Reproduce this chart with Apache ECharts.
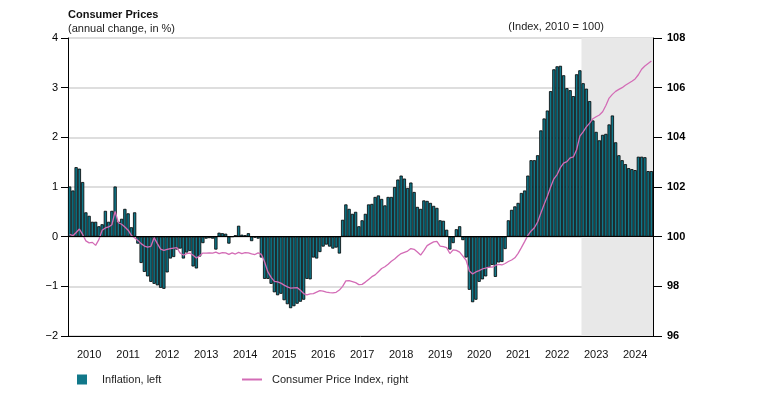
<!DOCTYPE html>
<html><head><meta charset="utf-8">
<script src="https://cdn.jsdelivr.net/npm/echarts@6/dist/echarts.min.js"></script>
<style>html,body{margin:0;padding:0;background:#fff}#c{width:764px;height:405px}</style>
</head><body><div id="c"></div>
<script>
// ---- data ----
const years = [2010,2011,2012,2013,2014,2015,2016,2017,2018,2019,2020,2021,2022,2023,2024];
// Inflation, annual change in % (monthly)
const inflation = [
  1.01, 0.93, 1.40, 1.37, 1.10, 0.49, 0.42, 0.30, 0.30, 0.21, 0.25, 0.52,
  0.30, 0.52, 1.01, 0.30, 0.36, 0.56, 0.47, 0.19, 0.49, -0.14, -0.53, -0.71,
  -0.80, -0.91, -0.95, -0.98, -1.03, -1.05, -0.72, -0.44, -0.41, -0.26, -0.24, -0.44,
  -0.32, -0.29, -0.60, -0.64, -0.40, -0.13, -0.04, -0.03, -0.04, -0.26, 0.08, 0.07,
  0.06, -0.14, 0.00, 0.03, 0.22, 0.04, 0.03, 0.07, -0.09, -0.02, -0.04, -0.42,
  -0.85, -0.85, -0.95, -1.12, -1.18, -1.15, -1.28, -1.36, -1.44, -1.40, -1.35, -1.31,
  -1.27, -0.85, -0.86, -0.42, -0.44, -0.31, -0.20, -0.16, -0.20, -0.24, -0.22, -0.34,
  0.34, 0.65, 0.56, 0.46, 0.50, 0.21, 0.33, 0.46, 0.65, 0.66, 0.80, 0.83,
  0.76, 0.63, 0.80, 0.80, 1.00, 1.15, 1.23, 1.17, 0.98, 1.09, 0.90, 0.60,
  0.56, 0.73, 0.72, 0.68, 0.62, 0.58, 0.33, 0.32, 0.14, -0.26, -0.13, 0.15,
  0.21, -0.07, -0.42, -1.07, -1.32, -1.27, -0.91, -0.86, -0.80, -0.62, -0.57, -0.81,
  -0.52, -0.51, -0.25, 0.33, 0.54, 0.61, 0.68, 0.88, 0.93, 1.23, 1.54, 1.54,
  1.64, 2.14, 2.38, 2.54, 2.93, 3.37, 3.43, 3.44, 3.25, 2.99, 2.95, 2.83,
  3.27, 3.35, 3.09, 2.98, 2.73, 2.34, 2.11, 1.94, 2.05, 2.07, 2.26, 2.44,
  1.90, 1.64, 1.54, 1.46, 1.38, 1.36, 1.34, 1.61, 1.61, 1.60, 1.32, 1.32
];
// Consumer Price Index (2010 = 100)
const cpi = [
  100.09, 100.04, 100.17, 100.31, 100.09, 99.83, 99.75, 99.77, 99.65, 99.88, 100.26, 100.35,
  100.39, 100.48, 101.02, 100.56, 100.50, 100.39, 100.26, 100.05, 99.96, 99.85, 99.72, 99.62,
  99.58, 99.61, 99.96, 99.72, 99.50, 99.45, 99.49, 99.52, 99.54, 99.56, 99.34, 99.26,
  99.32, 99.34, 99.25, 99.14, 99.23, 99.34, 99.34, 99.35, 99.34, 99.38, 99.32, 99.36,
  99.35, 99.29, 99.35, 99.30, 99.37, 99.32, 99.36, 99.35, 99.31, 99.28, 99.35, 99.29,
  98.98, 98.58, 98.36, 98.20, 98.18, 98.13, 98.05, 97.98, 97.93, 97.94, 97.95, 97.84,
  97.71, 97.66, 97.70, 97.71, 97.77, 97.83, 97.81, 97.77, 97.75, 97.74, 97.76, 97.85,
  98.00, 98.22, 98.23, 98.19, 98.15, 98.07, 98.08, 98.17, 98.28, 98.39, 98.46, 98.59,
  98.72, 98.79, 98.89, 99.01, 99.10, 99.22, 99.32, 99.37, 99.42, 99.52, 99.49, 99.38,
  99.26, 99.44, 99.64, 99.72, 99.79, 99.81, 99.62, 99.60, 99.56, 99.32, 99.47, 99.45,
  99.38, 99.22, 99.05, 98.62, 98.50, 98.58, 98.63, 98.70, 98.73, 98.77, 98.77, 98.84,
  98.88, 98.86, 98.92, 99.00, 99.06, 99.15, 99.33, 99.56, 99.80, 100.05, 100.23, 100.36,
  100.59, 100.95, 101.30, 101.63, 102.00, 102.33, 102.50, 102.78, 102.96, 103.02, 103.17, 103.21,
  103.50, 104.05, 104.22, 104.42, 104.57, 104.75, 104.83, 104.90, 105.03, 105.28, 105.58, 105.73,
  105.85, 105.93, 106.00, 106.10, 106.18, 106.26, 106.35, 106.52, 106.74, 106.87, 106.97, 107.07
];
const leftAxis = { min: -2, max: 4, interval: 1 };
const rightAxis = { min: 96, max: 108, interval: 2 };
const forecastStart = '2023-03';
const titleText = 'Consumer Prices';
const subText = '(annual change, in %)';
const rightNote = '(Index, 2010 = 100)';
const barName = 'Inflation, left';
const lineName = 'Consumer Price Index, right';

// ---- build ----
const months = [];
years.forEach(y => { for (let m = 1; m <= 12; m++) months.push(y + '-' + String(m).padStart(2, '0')); });
const shadeStartIdx = months.indexOf(forecastStart);
const minus = (v) => String(v).replace('-', '\u2212');

const FONT = '"Liberation Sans", Arial, sans-serif';
const chart = echarts.init(document.getElementById('c'), null, { renderer: 'canvas' });
chart.setOption({
  animation: false,
  backgroundColor: '#fff',
  textStyle: { fontFamily: FONT },
  title: [
    { text: titleText, subtext: subText, left: 68, top: 9, padding: 0, itemGap: 2,
      textStyle: { fontSize: 11, fontWeight: 'bold', color: '#111', fontFamily: FONT, lineHeight: 12 },
      subtextStyle: { fontSize: 11, color: '#222', fontFamily: FONT, lineHeight: 12 } },
    { text: rightNote, right: 160, top: 21, padding: 0,
      textStyle: { fontSize: 11, fontWeight: 'normal', color: '#222', fontFamily: FONT } }
  ],
  legend: [
    { data: [barName], left: 77, top: 374, padding: 0, itemWidth: 10, itemHeight: 10, icon: 'rect',
      itemStyle: { borderWidth: 0 },
      textStyle: { fontSize: 11, color: '#222', fontFamily: FONT, padding: [0, 0, 0, 10] } },
    { data: [lineName], left: 242, top: 374, padding: 0, itemWidth: 20, itemHeight: 2, icon: 'rect',
      textStyle: { fontSize: 11, color: '#222', fontFamily: FONT, padding: [0, 0, 0, 5] } }
  ],
  grid: { left: 68, right: 111, top: 38, bottom: 69, containLabel: false },
  xAxis: [
    { type: 'category', data: months, boundaryGap: true,
      axisLine: { onZero: false, lineStyle: { color: '#000', width: 1 } },
      axisTick: { interval: 2, length: 4, lineStyle: { color: '#333' } },
      axisLabel: { interval: (i) => i % 12 === 6, formatter: (v) => v.slice(0, 4),
        margin: 13, fontSize: 11, color: '#111', fontFamily: FONT },
      splitLine: { show: false } },
    { type: 'category', data: months, boundaryGap: true, position: 'bottom',
      axisLine: { show: false, onZero: false },
      axisTick: { interval: 11, length: 9, lineStyle: { color: '#333' } },
      axisLabel: { show: false }, splitLine: { show: false } },
    { type: 'value', min: 0, max: months.length, show: false }
  ],
  yAxis: [
    { type: 'value', min: leftAxis.min, max: leftAxis.max, interval: leftAxis.interval, position: 'left',
      axisLine: { show: true, lineStyle: { color: '#000', width: 1 } },
      axisTick: { show: true, length: 7, lineStyle: { color: '#000' } },
      axisLabel: { fontSize: 11, color: '#000', margin: 10, fontFamily: FONT, formatter: minus },
      splitLine: { show: true, lineStyle: { color: '#d3d3d3', width: 1.5 } } },
    { type: 'value', min: rightAxis.min, max: rightAxis.max, interval: rightAxis.interval, position: 'right',
      axisLine: { show: true, lineStyle: { color: '#000', width: 1 } },
      axisTick: { show: true, length: 9, lineStyle: { color: '#000' } },
      axisLabel: { fontSize: 11, fontWeight: 'bold', color: '#000', margin: 14, fontFamily: FONT },
      splitLine: { show: false } }
  ],
  series: [
    { name: 'shade', type: 'line', xAxisIndex: 2, yAxisIndex: 0, data: [], z: -1, silent: true,
      markArea: { silent: true, itemStyle: { color: '#e8e8e8' },
        data: [[{ xAxis: shadeStartIdx }, { xAxis: months.length }]] } },
    { name: barName, type: 'bar', xAxisIndex: 0, yAxisIndex: 0, data: inflation,
      barCategoryGap: '0%',
      itemStyle: { color: '#11788a', borderColor: '#000', borderWidth: 0.8 },
      markLine: { silent: true, symbol: ['none', 'none'], label: { show: false },
        lineStyle: { color: '#000', width: 1.2, type: 'solid' }, data: [{ yAxis: 0 }] } },
    { name: lineName, type: 'line', xAxisIndex: 0, yAxisIndex: 1, data: cpi,
      showSymbol: false, symbol: 'none', z: 3,
      lineStyle: { color: '#d36cb6', width: 1.3 }, itemStyle: { color: '#d36cb6' } }
  ]
});
</script>
</body></html>
